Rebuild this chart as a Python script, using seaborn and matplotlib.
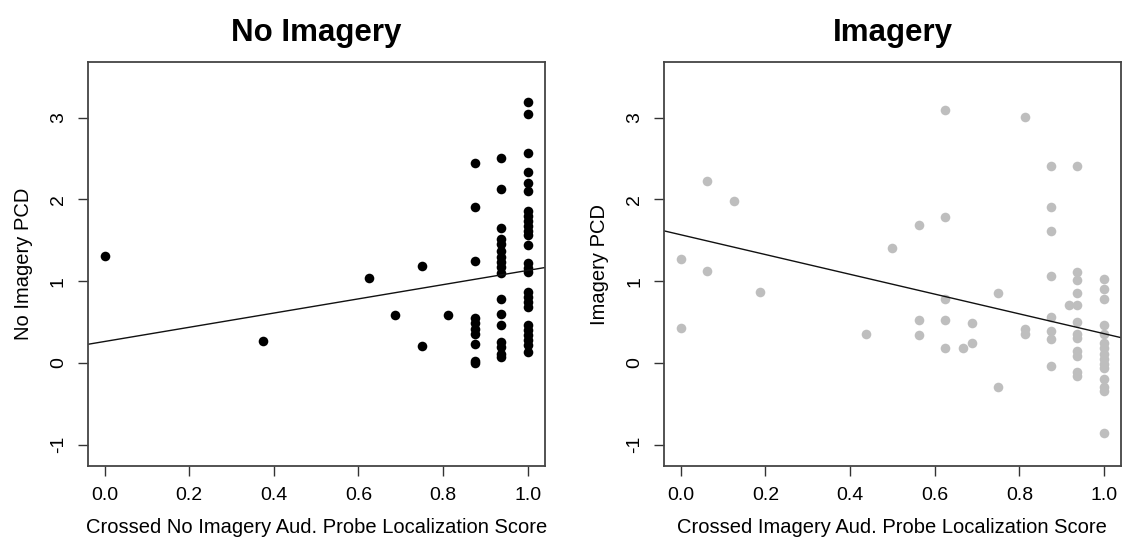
import matplotlib
matplotlib.use("Agg")
import matplotlib.pyplot as plt
import seaborn as sns
import numpy as np

# Crossed No Imagery condition: probe localization score vs. PCD
no_img_score = [0.0, 0.375, 0.625, 0.6875, 0.75, 0.75, 0.8125] \
    + [0.875] * 10 + [0.9375] * 17 + [1.0] * 26
no_img_pcd = [1.31, 0.27, 1.04, 0.59, 1.19, 0.21, 0.59,
              # 0.875
              2.45, 1.91, 1.25, 0.55, 0.49, 0.42, 0.36, 0.23, 0.03, 0.00,
              # 0.9375
              2.51, 2.13, 1.65, 1.52, 1.45, 1.37, 1.30, 1.24, 1.18, 1.10,
              0.78, 0.60, 0.46, 0.26, 0.20, 0.11, 0.07,
              # 1.0
              3.19, 3.04, 2.57, 2.33, 2.20, 2.10, 1.86, 1.80, 1.74, 1.68,
              1.62, 1.56, 1.44, 1.22, 1.16, 1.11, 0.87, 0.81, 0.75, 0.69,
              0.46, 0.40, 0.34, 0.28, 0.22, 0.13]
# least-squares line (intercept, slope)
no_img_fit = (0.263, 0.869)

# Crossed Imagery condition
img_score = [0.0, 0.0, 0.0625, 0.0625, 0.125, 0.1875, 0.4375, 0.5,
             0.5625, 0.5625, 0.5625, 0.625, 0.625, 0.625, 0.625, 0.625,
             0.6667, 0.6875, 0.6875, 0.75, 0.75, 0.8125, 0.8125, 0.8125] \
    + [0.875] * 8 + [0.9167] + [0.9375] * 12 + [1.0] * 15
img_pcd = [1.27, 0.43, 2.22, 1.13, 1.98, 0.87, 0.35, 1.41,
           1.69, 0.53, 0.34, 3.09, 1.78, 0.78, 0.52, 0.18,
           0.18, 0.49, 0.25, 0.85, -0.29, 3.01, 0.42, 0.36,
           # 0.875
           2.41, 1.91, 1.62, 1.06, 0.56, 0.39, 0.29, -0.04,
           # 0.9167
           0.71,
           # 0.9375
           2.41, 1.11, 1.01, 0.85, 0.71, 0.50, 0.35, 0.30, 0.15, 0.09,
           -0.11, -0.16,
           # 1.0
           1.03, 0.90, 0.78, 0.47, 0.36, 0.24, 0.18, 0.11, 0.05, -0.01,
           -0.06, -0.19, -0.29, -0.34, -0.86]
img_fit = (1.568, -1.209)

titles = ["No Imagery", "Imagery"]
xlabels = ["Crossed No Imagery Aud. Probe Localization Score",
           "Crossed Imagery Aud. Probe Localization Score"]
ylabels = ["No Imagery PCD", "Imagery PCD"]
x_ticks = [0.0, 0.2, 0.4, 0.6, 0.8, 1.0]
y_ticks = [-1, 0, 1, 2, 3]

sns.set_style("white")
plt.rcParams["font.family"] = ["Liberation Sans", "DejaVu Sans"]
plt.rcParams.update({"text.color": "black", "axes.labelcolor": "black",
                     "xtick.color": "black", "ytick.color": "black"})

fig = plt.figure(figsize=(11.24, 5.40), dpi=100)
ax_left = fig.add_axes([0.078, 0.137, 0.4065, 0.748])
ax_right = fig.add_axes([0.5907, 0.137, 0.4065, 0.748])

panels = [
    (ax_left, no_img_score, no_img_pcd, no_img_fit, "black"),
    (ax_right, img_score, img_pcd, img_fit, "#bebebe"),
]

for i, (ax, xs, ys, fit, color) in enumerate(panels):
    sns.regplot(x=np.array(xs), y=np.array(ys), ax=ax, fit_reg=False,
                scatter_kws=dict(s=48, color=color, linewidths=0, alpha=1))
    intercept, slope = fit
    ax.axline((0.0, intercept), slope=slope, color="#111111", linewidth=1.0)
    ax.set_xlim(-0.04, 1.04)
    ax.set_ylim(-1.26, 3.68)

    ax.set_xticks(x_ticks)
    ax.set_xticklabels([f"{t:.1f}" for t in x_ticks])
    ax.set_yticks(y_ticks)
    ax.set_yticklabels([str(t) for t in y_ticks], rotation=90, va="center")
    ax.tick_params(axis="both", direction="out", length=7, width=1.0,
                   color="#333333", labelsize=14, pad=8, bottom=True, left=True)

    for sp in ax.spines.values():
        sp.set_color("#444444")
        sp.set_linewidth(1.3)

    ax.set_title(titles[i], fontsize=22.5, fontweight="bold", pad=15)
    ax.set_xlabel(xlabels[i], fontsize=14.5, labelpad=10)
    ax.set_ylabel(ylabels[i], fontsize=14.5, labelpad=12)

fig.savefig("out.png", dpi=100, facecolor="white")
